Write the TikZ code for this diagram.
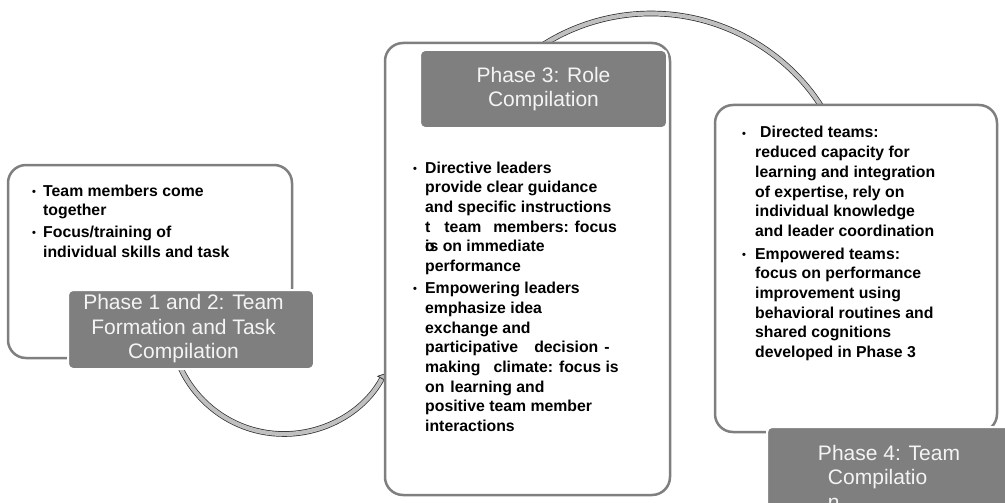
\documentclass[tikz,border=0pt]{standalone}
\usepackage{fontspec}
\setmainfont{Liberation Sans}
\usetikzlibrary{arrows.meta}
\definecolor{phGray}{RGB}{127,127,127}
\definecolor{phText}{RGB}{244,244,244}
\definecolor{arcFill}{RGB}{192,192,192}
\definecolor{arcEdge}{RGB}{40,40,40}
\newcommand{\bul}{\raisebox{1pt}{\fontsize{11}{11}\selectfont•}}

\begin{document}
\begin{tikzpicture}[x=1pt, y=-1pt,
  outerbox/.style={draw=phGray, line width=2.5pt, fill=white, rounded corners=18pt, inner sep=0pt},
  phasebox/.style={fill=phGray, draw=white, line width=2pt, rounded corners=5pt, text=phText,
    font=\fontsize{21}{24.5}\selectfont, align=center, inner sep=0pt},
  itemtext/.style={anchor=base west, inner sep=0pt, font=\bfseries\fontsize{15.8}{19.7}\selectfont},
  flowarc/.style={draw=arcEdge, line width=0.7pt, double=arcFill, double distance=4.2pt,
    -{Triangle[length=6pt, width=11pt, fill=arcFill, line width=0.7pt]}}]
  \useasboundingbox (0,0) rectangle (1005,503);

  % Arcs between the phases
  \coordinate (c12) at (284,320);
  \coordinate (c34) at (651,215);
  \draw[flowarc] ([shift={(180:114)}]c12) arc[start angle=180, end angle=28, radius=114];
  \draw[flowarc] ([shift={(-130:201.5)}]c34) arc[start angle=-130, end angle=-25, radius=201.5];

  % Outer boxes
  \node[outerbox, minimum width=284pt, minimum height=193pt] (box12) at (150,261.5) {};
  \node[outerbox, minimum width=285pt, minimum height=452pt] (box3) at (527.5,269) {};
  \node[outerbox, minimum width=282pt, minimum height=327pt] (box4) at (856,268.5) {};

  % Bullet texts
  \node[itemtext] (txt12) at (32,196) {%
    \begin{tabular}[t]{@{}p{11pt}@{}l@{}}
      \bul & Team members come\\
           & together\\[2pt]
      \bul & Focus/training of\\
           & individual skills and task
    \end{tabular}};
  \node[itemtext] (txt3) at (413,173) {%
    \begin{tabular}[t]{@{}p{12pt}@{}l@{}}
      \bul & Directive leaders\\
           & provide clear guidance\\
           & and specific instructions\\
           & t\hspace{14pt}team\hspace{12pt}members: focus\\
           & \rlap{o}is on immediate\\
           & performance\\[2.5pt]
      \bul & Empowering leaders\\
           & emphasize idea\\
           & exchange and\\
           & participative\hspace{16pt}decision\hspace{6pt}-\\
           & making\hspace{13pt}climate: focus is\\
           & on\hspace{6pt}learning and\\
           & positive team member\\
           & interactions
    \end{tabular}};
  \node[itemtext] (txt4) at (742,138) {%
    \begin{tabular}[t]{@{}p{13pt}@{}l@{}}
      \bul & \hspace*{5pt}Directed teams:\\
           & reduced capacity for\\
           & learning and integration\\
           & of expertise, rely on\\
           & individual knowledge\\
           & and leader coordination\\[3pt]
      \bul & Empowered teams:\\
           & focus on performance\\
           & improvement using\\
           & behavioral routines and\\
           & shared cognitions\\
           & developed in Phase 3
    \end{tabular}};

  % Phase labels
  \node[phasebox, minimum width=246pt, minimum height=79pt] (ph12) at (191,329.5)
    {\begin{tabular}{@{}c@{}}Phase 1 and 2: Team\\Formation and Task\\Compilation\end{tabular}\hspace*{15pt}};
  \node[phasebox, minimum width=247pt, minimum height=78pt] (ph3) at (543.5,89)
    {Phase 3: Role\\Compilation};
  \node[phasebox, minimum width=244pt, minimum height=100pt, align=left] (ph4) at (889,477)
    {Phase 4: Team\\\hspace*{10pt}Compilatio\\\hspace*{10pt}n};
\end{tikzpicture}
\end{document}
